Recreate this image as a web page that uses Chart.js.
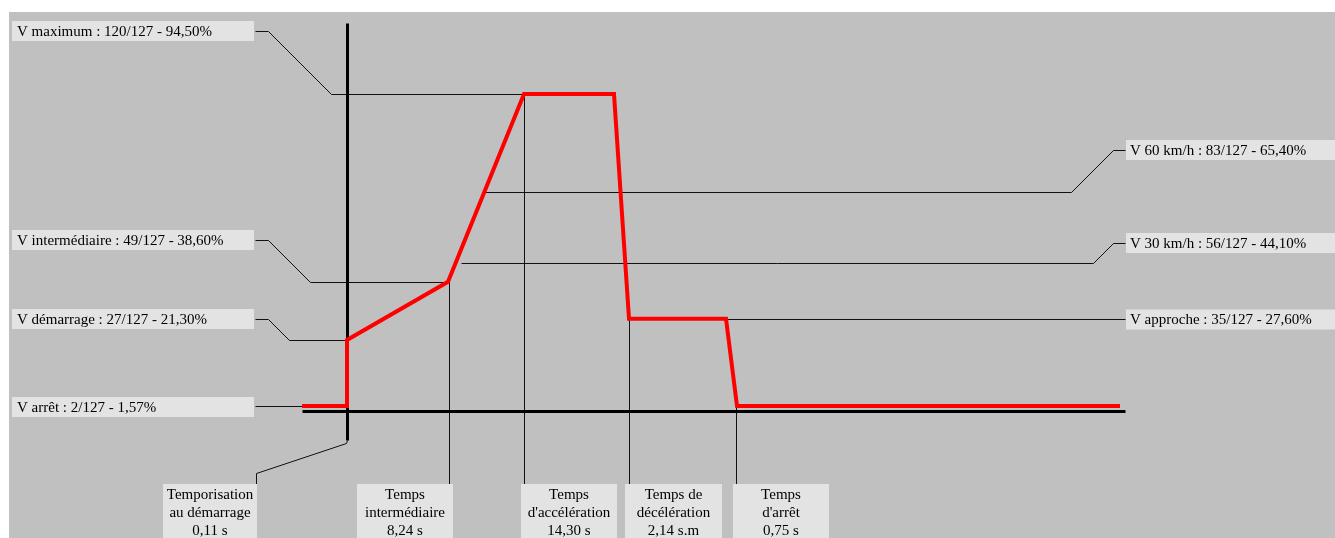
<!DOCTYPE html>
<html lang="fr">
<head>
<meta charset="utf-8">
<title>Courbe de vitesse</title>
<script src="https://cdn.jsdelivr.net/npm/chart.js@4.4.1/dist/chart.umd.min.js"></script>
<style>
  html, body { margin: 0; padding: 0; background: #fff; overflow: hidden; }
  #wrap { width: 1335px; height: 538px; }
</style>
</head>
<body>
<div id="wrap"><canvas id="speedChart" width="1335" height="538"></canvas></div>
<script>
// Speed profile: x = time step position, y = speed step (out of 127)
const profileX = [-4.5, 0, 0, 10.1, 17.7, 26.7, 28.2, 37.9, 39.0, 77.3];
const profileY = [2, 2, 27, 49, 120, 120, 35, 35, 2, 2];

// Speed levels labelled on the left
const leftLabels = [
    'V maximum : 120/127 - 94,50%',
    'V intermédiaire : 49/127 - 38,60%',
    'V démarrage : 27/127 - 21,30%',
    'V arrêt : 2/127 - 1,57%'
];
const leftValues = [120, 49, 27, 2];
const leftEndX = [17.7, 10.1, 0, -4.5];

// Speed levels labelled on the right
const rightLabels = [
    'V 60 km/h : 83/127 - 65,40%',
    'V 30 km/h : 56/127 - 44,10%',
    'V approche : 35/127 - 27,60%'
];
const rightValues = [83, 56, 35];
const rightEndX = [13.7, 11.4, 37.9];

// Time labels under the axis
const timeLabels = [
    ['Temporisation', 'au démarrage', '0,11 s'],
    ['Temps', 'intermédiaire', '8,24 s'],
    ['Temps', 'd\'accélération', '14,30 s'],
    ['Temps de', 'décélération', '2,14 s.m'],
    ['Temps', 'd\'arrêt', '0,75 s']
];
const timeX = [0, 10.2, 17.7, 28.2, 38.9];
const timeFromY = [0, 49, 120, 35, 2];

// Layout (pixels)
const BG = '#c0c0c0';
const BOX = '#e3e3e3';
const FONT = '15px "Liberation Serif", "Times New Roman", serif';
const leftBoxY = [31, 240, 319, 407];
const rightBoxY = [150, 243, 319.5];
const timeBoxX = [163, 357, 521, 625, 733];
const timeBoxW = [94, 96, 96, 97, 96];
const timeBoxTop = 484;

const line = (ctx, pts, w) => {
    ctx.beginPath();
    ctx.lineWidth = w;
    pts.forEach((p, i) => {
        const x = w % 2 ? Math.round(p[0]) + 0.5 : Math.round(p[0]);
        const y = w % 2 ? Math.round(p[1]) + 0.5 : Math.round(p[1]);
        if (i === 0) ctx.moveTo(x, y); else ctx.lineTo(x, y);
    });
    ctx.stroke();
};

const diagramPlugin = {
    id: 'diagram',
    beforeDraw(chart) {
        const ctx = chart.ctx;
        ctx.save();
        ctx.fillStyle = '#fff';
        ctx.fillRect(0, 0, chart.width, chart.height);
        ctx.fillStyle = BG;
        ctx.fillRect(9, 12, chart.width - 9, chart.height - 12);
        ctx.restore();
    },
    beforeDatasetsDraw(chart) {
        const ctx = chart.ctx;
        const px = v => chart.scales.x.getPixelForValue(v);
        const py = v => chart.scales.y.getPixelForValue(v);
        ctx.save();
        ctx.strokeStyle = '#111';

        // left level guides
        leftValues.forEach((v, i) => {
            const cy = leftBoxY[i], ly = py(v);
            const dy = Math.abs(ly - cy);
            const pts = dy > 2
                ? [[255, cy], [268, cy], [268 + dy, ly], [px(leftEndX[i]), ly]]
                : [[255, ly], [px(leftEndX[i]), ly]];
            line(ctx, pts, 1);
        });

        // right level guides
        rightValues.forEach((v, i) => {
            const cy = rightBoxY[i], ly = py(v);
            const dy = Math.abs(ly - cy);
            const pts = dy > 2
                ? [[1125, cy], [1113, cy], [1113 - dy, ly], [px(rightEndX[i]), ly]]
                : [[1125, ly], [px(rightEndX[i]), ly]];
            line(ctx, pts, 1);
        });

        // time drop lines
        timeX.forEach((t, i) => {
            if (i === 0) {
                const yb = py(-11);
                const xr = timeBoxX[0] + timeBoxW[0] - 1;
                line(ctx, [[px(t), yb], [px(t) - 1, yb + 3], [xr, timeBoxTop - 11], [xr, timeBoxTop]], 1);
            } else {
                line(ctx, [[px(t), py(timeFromY[i])], [px(t), timeBoxTop]], 1);
            }
        });

        // axes
        ctx.strokeStyle = '#000';
        line(ctx, [[px(-4.5), py(0)], [px(77.8), py(0)]], 3);
        line(ctx, [[px(0), py(147)], [px(0), py(-11)]], 3);

        // label boxes
        ctx.font = FONT;
        ctx.textBaseline = 'middle';
        leftLabels.forEach((txt, i) => {
            ctx.fillStyle = BOX;
            ctx.fillRect(12, leftBoxY[i] - 10, 242, 20);
            ctx.fillStyle = '#000';
            ctx.textAlign = 'left';
            ctx.fillText(txt, 17, leftBoxY[i] + 1);
        });
        rightLabels.forEach((txt, i) => {
            ctx.fillStyle = BOX;
            ctx.fillRect(1126, rightBoxY[i] - 10, 209, 20);
            ctx.fillStyle = '#000';
            ctx.textAlign = 'left';
            ctx.fillText(txt, 1130, rightBoxY[i] + 1);
        });
        timeLabels.forEach((lines, i) => {
            const x0 = timeBoxX[i], w = timeBoxW[i];
            ctx.fillStyle = BOX;
            ctx.fillRect(x0, timeBoxTop, w, 60);
            ctx.fillStyle = '#000';
            ctx.textAlign = 'center';
            lines.forEach((t, k) => ctx.fillText(t, x0 + w / 2, timeBoxTop + 11 + k * 18));
        });
        ctx.restore();
    }
};

new Chart(document.getElementById('speedChart').getContext('2d'), {
    type: 'line',
    data: {
        datasets: [{
            label: 'Vitesse',
            data: profileX.map((x, i) => ({ x: x, y: profileY[i] })),
            borderColor: '#ff0000',
            borderWidth: 4,
            pointRadius: 0,
            tension: 0,
            fill: false,
            borderJoinStyle: 'miter'
        }]
    },
    options: {
        responsive: false,
        animation: false,
        devicePixelRatio: 1,
        layout: { padding: 0 },
        scales: {
            x: { type: 'linear', display: false, min: -34.7, max: 98.8 },
            y: { type: 'linear', display: false, min: -47.92, max: 155.56 }
        },
        plugins: {
            legend: { display: false },
            tooltip: { enabled: false }
        }
    },
    plugins: [diagramPlugin]
});
</script>
</body>
</html>
